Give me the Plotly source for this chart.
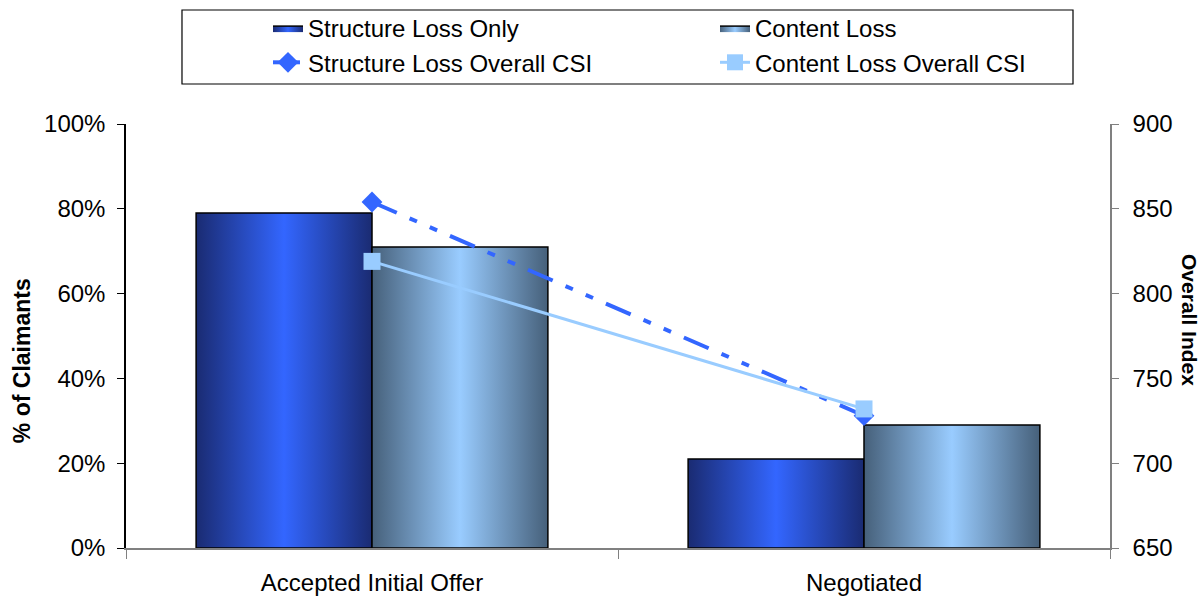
import plotly.graph_objects as go

# Claim resolution by loss type
categories = ["Accepted Initial Offer", "Negotiated"]
structure_pct = [79, 21]          # % of claimants, structure loss only
content_pct = [71, 29]            # % of claimants, content loss
structure_csi = [854, 728]        # overall CSI index, structure loss
content_csi = [819, 732]          # overall CSI index, content loss

pct_ticks = [0, 20, 40, 60, 80, 100]
pct_labels = [f"{v}%" for v in pct_ticks]
index_ticks = [650, 700, 750, 800, 850, 900]

FONT = "Liberation Sans, Arial, sans-serif"
BAR_GAP = 0.285                    # gap between category groups (fraction of slot)
BAR_W = (1 - BAR_GAP) / 2          # width of each bar in a group

STRUCT_EDGE, STRUCT_MID = "#1a2b72", "#3366ff"
CONTENT_EDGE, CONTENT_MID = "#46607a", "#99ccff"

fig = go.Figure()


def add_gradient_bars(name, values, side, edge, mid):
    """Bars drawn as filled polygons so each can carry a horizontal gradient."""
    for i, v in enumerate(values):
        x0 = i - BAR_W if side == "left" else i
        x1 = x0 + BAR_W
        fig.add_trace(go.Scatter(
            x=[x0, x1, x1, x0, x0],
            y=[0, 0, v, v, 0],
            mode="lines",
            fill="toself",
            fillgradient=dict(type="horizontal",
                              colorscale=[[0, edge], [0.5, mid], [1, edge]]),
            line=dict(color="black", width=1.5),
            name=name,
            showlegend=(i == 0),
            hovertemplate=f"{categories[i]}<br>{name}: {v}%<extra></extra>",
        ))


add_gradient_bars("Structure Loss Only", structure_pct, "left", STRUCT_EDGE, STRUCT_MID)
add_gradient_bars("Content Loss", content_pct, "right", CONTENT_EDGE, CONTENT_MID)

fig.add_trace(go.Scatter(
    x=list(range(len(categories))), y=structure_csi, yaxis="y2",
    mode="lines+markers", name="Structure Loss Overall CSI",
    line=dict(color="#3366ff", width=4, dash="27px,14px,8px,14px,8px,14px"),
    marker=dict(symbol="diamond", size=16, color="#3366ff"),
))
fig.add_trace(go.Scatter(
    x=list(range(len(categories))), y=content_csi, yaxis="y2",
    mode="lines+markers", name="Content Loss Overall CSI",
    line=dict(color="#99ccff", width=3),
    marker=dict(symbol="square", size=17, color="#99ccff"),
))

fig.update_layout(
    width=1204, height=597,
    margin=dict(l=126, r=94, t=124, b=49, autoexpand=False),
    paper_bgcolor="white", plot_bgcolor="white",
    font=dict(family=FONT, size=24, color="black"),
    legend=dict(
        orientation="h", x=0.1443, xanchor="left", y=1.2783, yanchor="top",
        entrywidth=402, bgcolor="rgba(0,0,0,0)", borderwidth=0,
        font=dict(family=FONT, size=24, color="black"),
    ),
    xaxis=dict(
        range=[-0.5, 1.5], tickvals=list(range(len(categories))), ticktext=categories,
        ticks="", showline=True, linecolor="#808080", linewidth=1.5,
        showgrid=False, zeroline=False, ticklabelstandoff=12, automargin=False,
        minor=dict(tickvals=[-0.5, 0.5, 1.5], ticks="outside", ticklen=9,
                   tickcolor="#808080", tickwidth=1, showgrid=False),
    ),
    yaxis=dict(
        range=[0, 100], tickvals=pct_ticks, ticktext=pct_labels,
        ticks="outside", ticklen=7, tickcolor="black",
        showline=True, linecolor="black", linewidth=1.5,
        showgrid=False, zeroline=False, ticklabelstandoff=7, automargin=False,
    ),
    yaxis2=dict(
        overlaying="y", side="right", range=[650, 900], tickvals=index_ticks,
        ticks="outside", ticklen=7, tickcolor="#808080",
        showline=True, linecolor="#808080", linewidth=1.5,
        showgrid=False, zeroline=False, ticklabelstandoff=9, automargin=False,
    ),
    shapes=[dict(type="rect", xref="paper", yref="paper",
                 x0=0.0569, x1=0.9624, y0=1.0943, y1=1.2689,
                 line=dict(color="black", width=1.2), fillcolor="rgba(0,0,0,0)")],
    annotations=[
        dict(text="<b>% of Claimants</b>", xref="paper", yref="paper",
             x=-0.1057, y=0.443, xanchor="center", yanchor="middle",
             textangle=-90, showarrow=False,
             font=dict(family=FONT, size=23, color="black")),
        dict(text="<b>Overall Index</b>", xref="paper", yref="paper",
             x=1.0813, y=0.5377, xanchor="center", yanchor="middle",
             textangle=90, showarrow=False,
             font=dict(family=FONT, size=21, color="black")),
    ],
)

fig.write_html("out.html")
